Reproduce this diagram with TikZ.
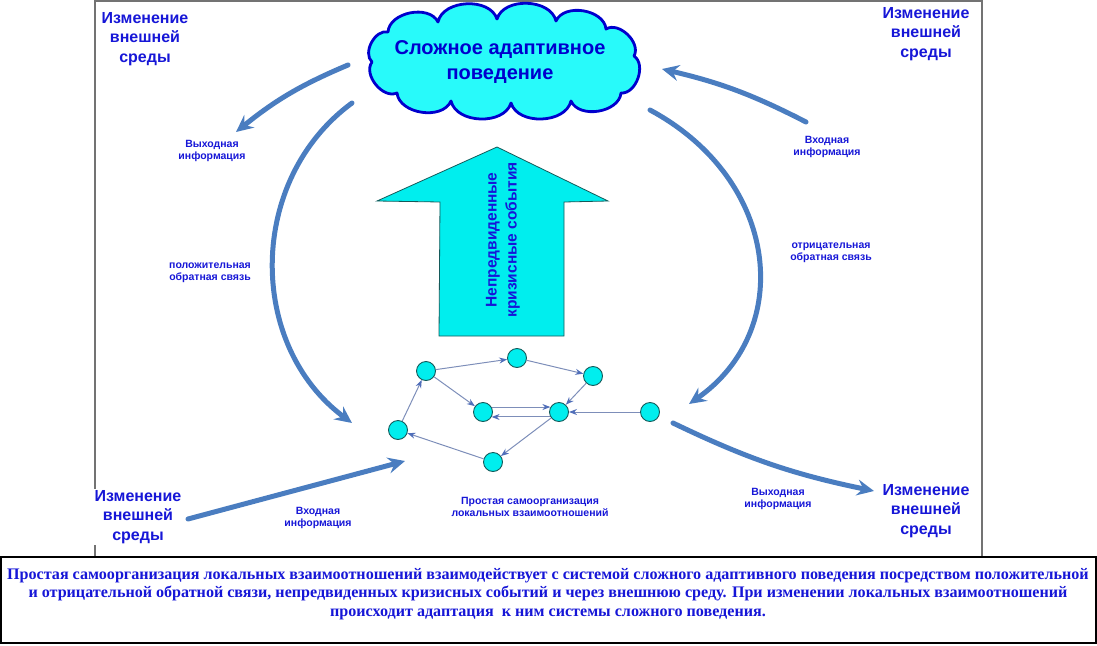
\documentclass[tikz,border=0pt]{standalone}
\usepackage{fontspec}
\setmainfont{Liberation Sans}
\newfontfamily\serifbody{Liberation Serif}
\usetikzlibrary{arrows.meta}
\definecolor{txtblue}{RGB}{22,22,215}
\definecolor{arrblue}{RGB}{74,125,192}
\definecolor{nodefill}{RGB}{0,238,238}
\definecolor{cloudfill}{RGB}{40,250,250}
\definecolor{cloudline}{RGB}{0,0,205}
\definecolor{edgecol}{RGB}{125,142,185}
\definecolor{tipcol}{RGB}{80,110,185}
\definecolor{framegray}{RGB}{115,115,115}
\definecolor{noderim}{RGB}{20,90,90}
\begin{document}
\begin{tikzpicture}[x=1pt,y=-1pt,
  flow/.style={arrblue, line width=5pt, line cap=round,
    -{Stealth[length=17pt,width=16pt,inset=6pt]}},
  envtext/.style={text=txtblue, align=center, inner sep=1pt,
    font=\bfseries\fontsize{16}{19.5}\selectfont},
  smalllabel/.style={text=txtblue, align=center, inner sep=1pt,
    font=\bfseries\fontsize{10.5}{12.5}\selectfont},
  agent/.style={circle, minimum size=19pt, inner sep=0pt, fill=nodefill,
    draw=noderim, line width=0.9pt},
  link/.style={edgecol, line width=1pt,
    -{Stealth[length=8pt,width=6pt,color=tipcol]}},
  puff/.style={bend left=75}
]
\useasboundingbox (0,0) rectangle (1097,645);
% frame
\draw[framegray, line width=2pt] (95,1) rectangle (982,557);

% cloud
\draw[fill=cloudfill, draw=cloudline, line width=2.8pt, line join=round]
  (388,32) to[puff] (438,22) to[puff] (497,19) to[puff] (556,21)
  to[puff] (606,29) to[puff] (634,56) to[puff] (621,93)
  to[puff] (571,101) to[puff] (511,103) to[puff] (451,101)
  to[puff] (397,93) to[puff] (372,62) to[puff] cycle;
\node[text=cloudline, align=center, font=\bfseries\fontsize{20}{25}\selectfont]
  (cloudtext) at (500,62) {Сложное адаптивное\\поведение};

% big up arrow
\draw[fill=nodefill, draw=noderim, line width=0.8pt]
  (497,147) -- (608,201) -- (564,202) -- (564,336) -- (439,336)
  -- (440,202) -- (377,201) -- cycle;
\node[rotate=90, text=txtblue, align=center,
  font=\bfseries\fontsize{15.5}{20}\selectfont] (crisis) at (503,240)
  {Непредвиденные\\кризисные события};

% environment texts
\node[envtext] (envTL) at (145,39) {Изменение\\внешней\\среды};
\node[envtext] (envTR) at (926,34) {Изменение\\внешней\\среды};
\node[envtext, fill=white] (envBL) at (138,517) {Изменение\\внешней\\среды};
\node[envtext] (envBR) at (926,511) {Изменение\\внешней\\среды};

% small labels
\node[smalllabel] (outTL) at (212,151) {Выходная\\информация};
\node[smalllabel] (inTR) at (827,147) {Входная\\информация};
\node[smalllabel] (pos) at (210,273) {положительная\\обратная связь};
\node[smalllabel] (neg) at (831,253) {отрицательная\\обратная связь};
\node[smalllabel] (inBL) at (318,518) {Входная\\информация};
\node[smalllabel] (outBR) at (778,499) {Выходная\\информация};
\node[smalllabel] (selforg) at (530,507) {Простая самоорганизация\\локальных взаимоотношений};

% flow endpoints
\coordinate (tlS) at (348,65);   \coordinate (tlE) at (236,132);
\coordinate (trS) at (806,122);  \coordinate (trE) at (662,69);
\coordinate (lS) at (352,103);   \coordinate (lE) at (352,423);
\coordinate (rS) at (650,110);   \coordinate (rE) at (689,404);
\coordinate (brS) at (673,423);  \coordinate (brE) at (874,491);
\coordinate (blS) at (188,519);  \coordinate (blE) at (405,461);

\draw[flow] (tlS) to[bend right=8] (tlE);
\draw[flow] (trS) to[bend right=7] (trE);
\draw[flow] (lS) .. controls (247,180) and (247,345) .. (lE);
\draw[flow] (rS) .. controls (780,180) and (795,330) .. (rE);
\draw[flow] (brS) to[bend right=7] (brE);
\draw[flow] (blS) -- (blE);

% network
\node[agent] (A) at (426,371) {};
\node[agent] (B) at (517,358) {};
\node[agent] (C) at (593,376) {};
\node[agent] (D) at (483,412) {};
\node[agent] (E) at (559,412) {};
\node[agent] (F) at (650,412) {};
\node[agent] (G) at (398,430) {};
\node[agent] (H) at (493,462) {};
\draw[link] (A) -- (B);
\draw[link] (B) -- (C);
\draw[link] (C) -- (E);
\draw[link] (A) -- (D);
\draw[link] (D.30) -- (E.150);
\draw[link] (E.-150) -- (D.-30);
\draw[link] (F) -- (E);
\draw[link] (E) -- (H);
\draw[link] (H) -- (G);
\draw[link] (G) -- (A);

% bottom caption box
\draw[black, line width=1.8pt, fill=white] (1,557) rectangle (1096,643);
\node[text=txtblue, align=center, inner sep=0pt,
  font=\serifbody\bfseries\fontsize{16.1}{18.8}\selectfont] (caption) at (548,594)
  {Простая самоорганизация локальных взаимоотношений взаимодействует с системой сложного адаптивного поведения посредством положительной\\
   и отрицательной обратной связи, непредвиденных кризисных событий и через внешнюю среду. При изменении локальных взаимоотношений\\
   происходит адаптация\ \ к ним системы сложного поведения.};
\end{tikzpicture}
\end{document}
